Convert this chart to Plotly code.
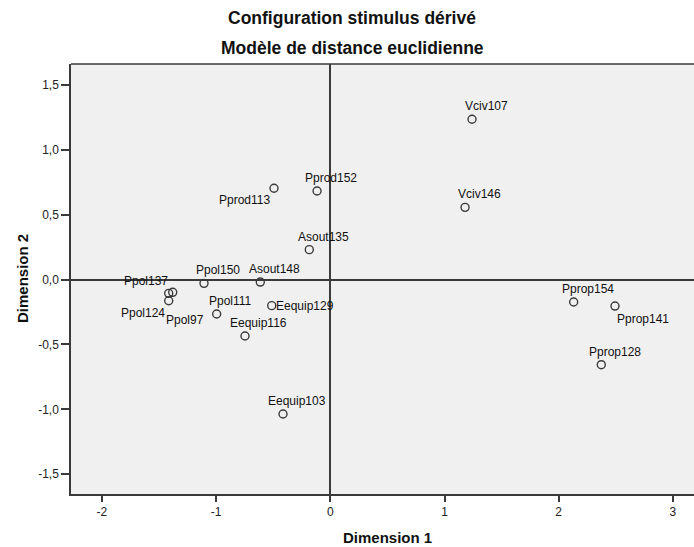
import plotly.graph_objects as go

# ---- data ----
names = ["Vciv107", "Vciv146", "Pprod113", "Pprod152", "Asout135", "Asout148",
         "Ppol150", "Ppol137", "Ppol124", "Ppol97", "Ppol111", "Eequip129",
         "Eequip116", "Eequip103", "Pprop154", "Pprop141", "Pprop128"]
dim1 = [1.241, 1.180, -0.493, -0.116, -0.184, -0.613,
        -1.106, -1.380, -1.415, -1.415, -0.995, -0.513,
        -0.747, -0.414, 2.131, 2.493, 2.373]
dim2 = [1.236, 0.557, 0.704, 0.683, 0.231, -0.019,
        -0.029, -0.098, -0.106, -0.163, -0.265, -0.201,
        -0.435, -1.036, -0.173, -0.204, -0.656]

x_ticks = [-2, -1, 0, 1, 2, 3]
x_ticklabels = ["-2", "-1", "0", "1", "2", "3"]
y_ticks = [-1.5, -1.0, -0.5, 0.0, 0.5, 1.0, 1.5]
y_ticklabels = ["-1,5", "-1,0", "-0,5", "0,0", "0,5", "1,0", "1,5"]

title1 = "Configuration stimulus dérivé"
title2 = "Modèle de distance euclidienne"
xtitle = "Dimension 1"
ytitle = "Dimension 2"

# label offsets in pixels (dx right, dy down) -- styling only
label_offsets = {
    "Ppol137": (-27, -11),
    "Ppol124": (-26, 20),
    "Ppol97": (16, 19),
    "Eequip129": (33, 0),
    "Pprod113": (-30, 12),
    "Pprop141": (28, 13),
}
default_offset = (14, -13)

FONT = "Liberation Sans, Arial, sans-serif"
DARK = "#3a3a3a"

L, R, T, B = 71, 0, 64, 53
W, H = 694, 547
pw = W - L - R
ph = H - T - B
plot_left = L
plot_top = T
plot_bottom = H - B

fig = go.Figure()
fig.add_trace(go.Scatter(
    x=dim1, y=dim2, mode="markers",
    marker=dict(symbol="circle-open", size=8, color=DARK, line=dict(width=1.4, color=DARK)),
    hoverinfo="text", text=names, showlegend=False,
))

annotations = []
for n, xv, yv in zip(names, dim1, dim2):
    dx, dy = label_offsets.get(n, default_offset)
    annotations.append(dict(
        x=xv, y=yv, xref="x", yref="y", text=n, showarrow=False,
        xanchor="center", yanchor="middle", xshift=dx, yshift=-dy,
        font=dict(family=FONT, size=12, color="#111111"),
    ))

annotations.append(dict(
    text="<b>" + title1 + "</b>", xref="paper", yref="paper",
    x=(352 - plot_left) / pw, y=1 + (plot_top - 18) / ph, xanchor="center", yanchor="middle",
    showarrow=False, font=dict(family=FONT, size=17.5, color="#111111"),
))
annotations.append(dict(
    text="<b>" + title2 + "</b>", xref="paper", yref="paper",
    x=(352 - plot_left) / pw, y=1 + (plot_top - 48) / ph, xanchor="center", yanchor="middle",
    showarrow=False, font=dict(family=FONT, size=17.5, color="#111111"),
))
annotations.append(dict(
    text="<b>" + xtitle + "</b>", xref="paper", yref="paper",
    x=(387 - plot_left) / pw, y=-(537 - plot_bottom) / ph, xanchor="center", yanchor="middle",
    showarrow=False, font=dict(family=FONT, size=15, color="#111111"),
))
annotations.append(dict(
    text="<b>" + ytitle + "</b>", xref="paper", yref="paper",
    x=-(plot_left - 22) / pw, y=0.5, xanchor="center", yanchor="middle", textangle=-90,
    showarrow=False, font=dict(family=FONT, size=15, color="#111111"),
))

fig.update_layout(
    width=W, height=H,
    margin=dict(l=L, r=R, t=T, b=B, pad=0),
    paper_bgcolor="white", plot_bgcolor="#F0F0F0",
    font=dict(family=FONT, size=12, color="#111111"),
    annotations=annotations,
    shapes=[dict(type="line", xref="paper", yref="paper", x0=0, x1=1, y0=1, y1=1,
                 line=dict(color=DARK, width=1.5))],
)
fig.update_xaxes(
    range=[-2.2706, 3.1848], tickvals=x_ticks, ticktext=x_ticklabels,
    showgrid=False, zeroline=True, zerolinecolor=DARK, zerolinewidth=1.5,
    showline=True, linecolor=DARK, linewidth=1.5,
    ticks="outside", ticklen=6, tickwidth=1.5, tickcolor=DARK,
    tickfont=dict(family=FONT, size=12, color="#222222"),
)
fig.update_yaxes(
    range=[-1.653, 1.6623], tickvals=y_ticks, ticktext=y_ticklabels,
    showgrid=False, zeroline=True, zerolinecolor=DARK, zerolinewidth=1.5,
    showline=True, linecolor=DARK, linewidth=1.5,
    ticks="outside", ticklen=8, tickwidth=1.5, tickcolor=DARK,
    tickfont=dict(family=FONT, size=12, color="#222222"),
)

fig.write_html(
    "out.html",
    config={"displayModeBar": False},
    post_script="document.body.style.margin='0';document.body.style.overflow='hidden';",
)
